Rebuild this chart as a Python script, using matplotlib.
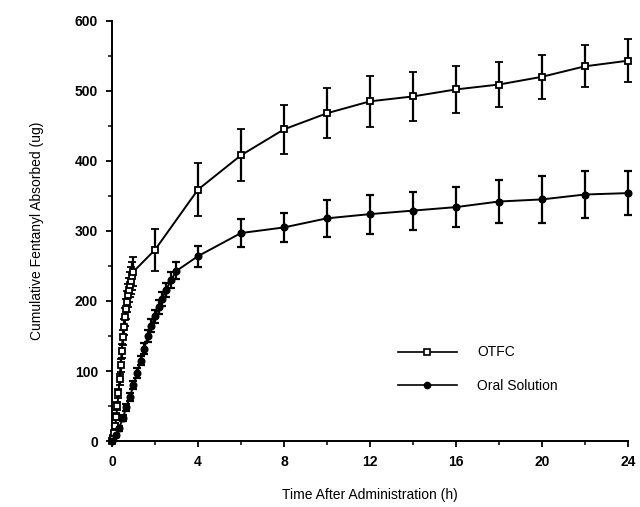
import matplotlib
matplotlib.use("Agg")
import matplotlib.pyplot as plt
from matplotlib.ticker import MultipleLocator
from matplotlib.lines import Line2D

plt.rcParams['font.family'] = ['Liberation Sans', 'DejaVu Sans']

# OTFC (oral transmucosal fentanyl citrate)
otfc_t = [0, 0.05, 0.10, 0.15, 0.20, 0.25, 0.30, 0.35, 0.40, 0.45, 0.50,
          0.55, 0.60, 0.65, 0.70, 0.75, 0.80, 0.85, 0.90, 0.95, 1.0,
          2, 4, 6, 8, 10, 12, 14, 16, 18, 20, 22, 24]
otfc_v = [0, 5, 12, 22, 35, 50, 68, 88, 108, 128, 148,
          163, 177, 189, 199, 208, 216, 223, 229, 235, 242,
          273, 359, 408, 445, 468, 485, 492, 502, 509, 520, 535, 543]
otfc_err = [0, 2, 3, 4, 5, 6, 7, 8, 9, 10, 11,
            12, 13, 14, 15, 16, 17, 18, 19, 20, 21,
            30, 38, 37, 35, 36, 36, 35, 33, 32, 31, 30, 31]

# Oral solution
oral_t = [0, 0.17, 0.33, 0.5, 0.67, 0.83, 1.0, 1.17, 1.33, 1.5, 1.67, 1.83,
          2.0, 2.17, 2.33, 2.5, 2.75, 3.0, 4, 6, 8, 10, 12, 14, 16, 18, 20, 22, 24]
oral_v = [0, 8, 18, 33, 48, 63, 80, 97, 115, 132, 150, 165,
          178, 191, 203, 215, 230, 243, 264, 297, 305, 318, 324, 329, 334, 342, 345, 352, 354]
oral_err = [0, 2, 3, 4, 5, 6, 6, 7, 7, 8, 8, 9,
            9, 10, 10, 10, 11, 12, 15, 20, 21, 26, 28, 27, 29, 31, 33, 34, 31]

x_ticks = [0, 4, 8, 12, 16, 20, 24]
y_ticks = [0, 100, 200, 300, 400, 500, 600]

fig = plt.figure(figsize=(6.4, 5.07), dpi=100)
ax = fig.add_axes([0.175, 0.130, 0.806, 0.829])

ax.errorbar(otfc_t, otfc_v, yerr=otfc_err, fmt='-s', color='black',
            mfc='white', mec='black', ms=4.8, mew=1.3, lw=1.4,
            elinewidth=1.6, capsize=3, capthick=1.6, clip_on=False,
            zorder=3)
ax.errorbar(oral_t, oral_v, yerr=oral_err, fmt='-o', color='black',
            mfc='black', mec='black', ms=4.8, lw=1.4,
            elinewidth=1.6, capsize=3, capthick=1.6, clip_on=False,
            zorder=3)

ax.set_xlim(0, 24)
ax.set_ylim(0, 600)
ax.set_xticks(x_ticks)
ax.set_yticks(y_ticks)
ax.xaxis.set_minor_locator(MultipleLocator(2))
ax.yaxis.set_minor_locator(MultipleLocator(50))
for s in ['top', 'right']:
    ax.spines[s].set_visible(False)
for s in ['left', 'bottom']:
    ax.spines[s].set_linewidth(1.4)
ax.tick_params(which='major', direction='out', length=4, width=1.3,
               labelsize=10, pad=6)
ax.tick_params(which='minor', direction='out', length=3, width=1.1)
for lab in ax.get_xticklabels() + ax.get_yticklabels():
    lab.set_fontweight('bold')

ax.set_xlabel('Time After Administration (h)', fontsize=10, labelpad=14)
ax.set_ylabel('Cumulative Fentanyl Absorbed (ug)', fontsize=10, labelpad=22)

handles = [
    Line2D([], [], color='black', lw=1.2, marker='s', mfc='white',
           mec='black', ms=4.5, mew=1.2),
    Line2D([], [], color='black', lw=1.2, marker='o', mfc='black',
           mec='black', ms=4.5),
]
ax.legend(handles, ['OTFC', 'Oral Solution'], loc='center left',
          bbox_to_anchor=(0.555, 0.171), frameon=False,
          fontsize=10, handlelength=4.2, handletextpad=1.5, labelspacing=1.4,
          borderpad=0, borderaxespad=0, numpoints=1)

fig.savefig('out.png', dpi=100)
